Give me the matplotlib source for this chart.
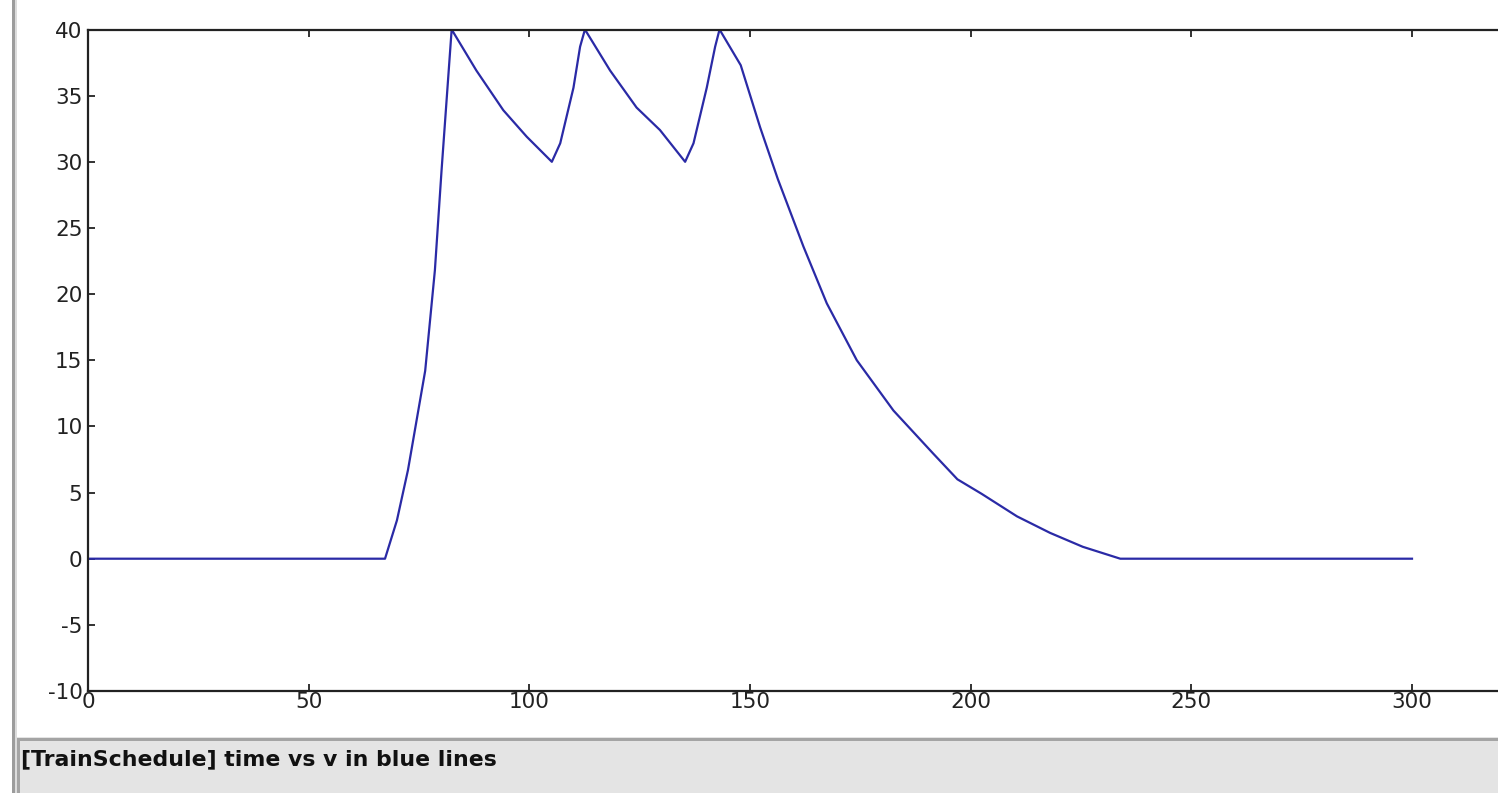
import matplotlib
matplotlib.use("Agg")
import matplotlib.pyplot as plt
from matplotlib.patches import Rectangle

# data
time = [0, 67.3, 70.0, 72.5, 76.4, 78.6, 80.1, 82.4,
        88.0, 94.1, 99.4, 105.1,
        107.0, 110.0, 111.5, 112.6,
        118.3, 124.3, 129.6, 135.3,
        137.2, 140.2, 142.1, 143.1,
        147.9, 152.3, 156.3, 162.1, 167.4, 174.2, 182.5, 191.5, 197.0,
        202.5, 210.5, 218.0, 225.4, 233.9, 300]
v = [0, 0, 2.9, 6.7, 14.2, 21.8, 29.3, 40.0,
     36.9, 33.9, 31.9, 30.0,
     31.4, 35.6, 38.7, 40.0,
     36.9, 34.1, 32.4, 30.0,
     31.4, 35.6, 38.7, 40.0,
     37.3, 32.6, 28.7, 23.6, 19.3, 15.0, 11.2, 7.95, 6.0,
     4.9, 3.2, 1.95, 0.9, 0.0, 0.0]

xticks = [0, 50, 100, 150, 200, 250, 300]
yticks = [-10, -5, 0, 5, 10, 15, 20, 25, 30, 35, 40]
status_text = "[TrainSchedule] time vs v in blue lines"

W, H = 1498, 793
plt.rcParams["font.family"] = ["DejaVu Sans"]
fig = plt.figure(figsize=(W / 100, H / 100), dpi=100)
fig.patch.set_facecolor("white")

def px(x0, y0, x1, y1):
    # pixel box (top-left origin) -> figure fraction rect
    return (x0 / W, 1 - y1 / H, (x1 - x0) / W, (y1 - y0) / H)

ax_l, ax_r, ax_t, ax_b = 88, 1498, 29.5, 691
ax = fig.add_axes(px(ax_l, ax_t, ax_r, ax_b))
ax.plot(time, v, color="#2a2aa6", linewidth=1.6, solid_joinstyle="round")

x_per_px = 300 / (1412 - 88)
ax.set_xlim(0, (ax_r - ax_l) * x_per_px)
ax.set_ylim(-10, 40)
ax.set_xticks(xticks)
ax.set_yticks(yticks)
ax.set_xticklabels([str(t) for t in xticks])
ax.set_yticklabels([str(t) for t in yticks])
ax.tick_params(direction="in", length=5, width=1.3, color="#222222",
               labelsize=15.5, labelcolor="#222222", top=True, right=False)
ax.tick_params(axis="x", pad=1)
ax.tick_params(axis="y", pad=4)
for s in ["left", "bottom", "top"]:
    ax.spines[s].set_linewidth(1.6)
    ax.spines[s].set_color("#222222")
ax.spines["right"].set_visible(False)

# window chrome: left bar and status bar
def box(x0, y0, x1, y1, color):
    r = px(x0, y0, x1, y1)
    fig.patches.append(Rectangle(r[:2], r[2], r[3], transform=fig.transFigure,
                                 facecolor=color, edgecolor="none"))

box(12, 0, 15, H, "#9c9c9c")
box(15, 0, 17, H, "#dcdcdc")
box(17, 737, W, H, "#e4e4e4")
box(17, 738, W, 741, "#a4a4a4")
box(17, 738, 20, H, "#a4a4a4")
fig.text(21 / W, 1 - 765 / H, status_text, fontsize=15.8, fontweight="bold",
         color="#111111", ha="left", va="baseline")

fig.savefig("out.png", dpi=100)
